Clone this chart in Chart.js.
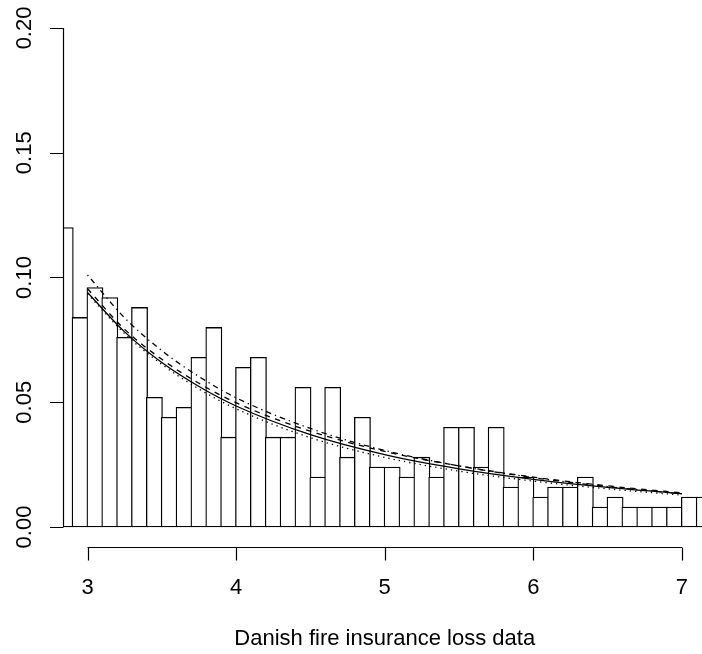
<!DOCTYPE html>
<html>
<head>
<meta charset="utf-8">
<script src="https://cdn.jsdelivr.net/npm/chart.js@4.4.0/dist/chart.umd.min.js"></script>
<style>
  html, body { margin: 0; padding: 0; background: #fff; }
</style>
</head>
<body>
<canvas id="hist" width="702" height="654"></canvas>
<script>
// histogram: left edge of each bin and its density
var binWidth = 0.1;
var binLeft = [2.8, 2.9, 3.0, 3.1, 3.2, 3.3, 3.4, 3.5, 3.6, 3.7, 3.8, 3.9,
               4.0, 4.1, 4.2, 4.3, 4.4, 4.5, 4.6, 4.7, 4.8, 4.9,
               5.0, 5.1, 5.2, 5.3, 5.4, 5.5, 5.6, 5.7, 5.8, 5.9,
               6.0, 6.1, 6.2, 6.3, 6.4, 6.5, 6.6, 6.7, 6.8, 6.9,
               7.0, 7.1];
var density = [0.120, 0.084, 0.096, 0.092, 0.076, 0.088, 0.052, 0.044, 0.048, 0.068, 0.080, 0.036,
               0.064, 0.068, 0.036, 0.036, 0.056, 0.020, 0.056, 0.028, 0.044, 0.024,
               0.024, 0.020, 0.028, 0.020, 0.040, 0.040, 0.024, 0.040, 0.016, 0.020,
               0.012, 0.016, 0.016, 0.020, 0.008, 0.012, 0.008, 0.008, 0.008, 0.008,
               0.012, 0.012];

// fitted densities
var fitX       = [3.0, 3.25, 3.5, 3.75, 4.0, 4.5, 5.0, 5.5, 6.0, 6.5, 7.0];
var fitSolid   = [0.0940, 0.0782, 0.0659, 0.0563, 0.0485, 0.0370, 0.0290, 0.0233, 0.0191, 0.0159, 0.0134];
var fitDashed  = [0.0955, 0.0792, 0.0672, 0.0576, 0.0498, 0.0384, 0.0303, 0.0245, 0.0200, 0.0165, 0.0137];
var fitDotted  = [0.0935, 0.0775, 0.0652, 0.0553, 0.0474, 0.0358, 0.0279, 0.0224, 0.0184, 0.0153, 0.0128];
var fitDotDash = [0.1010, 0.0838, 0.0707, 0.0603, 0.0518, 0.0395, 0.0307, 0.0245, 0.0198, 0.0162, 0.0133];

var xTicks = [3, 4, 5, 6, 7];
var xTickLabels = ['3', '4', '5', '6', '7'];
var yTicks = [0, 0.05, 0.10, 0.15, 0.20];
var yTickLabels = ['0.00', '0.05', '0.10', '0.15', '0.20'];
var xTitle = 'Danish fire insurance loss data';

var xMin = 2.835, xMax = 7.135, yMin = -0.008, yMax = 0.208;
var pad = { left: 63, top: 8, right: 0, bottom: 107 };
var FONT = '22px "Liberation Sans", Arial, sans-serif';
var LW = 1.3;

function pts(xs, ys) {
  return xs.map(function(x, i) { return { x: x, y: ys[i] }; });
}

function fitLine(values, dash) {
  return {
    type: 'line',
    data: pts(fitX, values),
    borderColor: '#000',
    borderWidth: LW,
    borderDash: dash,
    pointRadius: 0,
    fill: false,
    cubicInterpolationMode: 'monotone',
    order: 1
  };
}

// R-style axes: line only across the tick range, outward ticks
var rAxes = {
  id: 'rAxes',
  afterDraw: function(chart) {
    var ctx = chart.ctx, xs = chart.scales.x, ys = chart.scales.y;
    var area = chart.chartArea;
    var base = Math.round(area.bottom) + 0.5;
    var left = Math.round(area.left) + 0.5;
    ctx.save();
    ctx.strokeStyle = '#000';
    ctx.fillStyle = '#000';
    ctx.lineWidth = 1.2;
    ctx.font = FONT;

    ctx.beginPath();
    ctx.moveTo(xs.getPixelForValue(xTicks[0]), base);
    ctx.lineTo(xs.getPixelForValue(xTicks[xTicks.length - 1]), base);
    xTicks.forEach(function(t) {
      var px = Math.round(xs.getPixelForValue(t)) + 0.5;
      ctx.moveTo(px, base);
      ctx.lineTo(px, base + 13);
    });
    ctx.moveTo(left, ys.getPixelForValue(yTicks[0]));
    ctx.lineTo(left, ys.getPixelForValue(yTicks[yTicks.length - 1]));
    yTicks.forEach(function(t) {
      var py = Math.round(ys.getPixelForValue(t)) + 0.5;
      ctx.moveTo(left, py);
      ctx.lineTo(left - 13.5, py);
    });
    ctx.stroke();

    ctx.textAlign = 'center';
    ctx.textBaseline = 'middle';
    xTicks.forEach(function(t, i) {
      ctx.fillText(xTickLabels[i], xs.getPixelForValue(t), base + 40);
    });
    ctx.fillText(xTitle, xs.getPixelForValue(5), base + 91);

    yTicks.forEach(function(t, i) {
      ctx.save();
      ctx.translate(left - 39, ys.getPixelForValue(t));
      ctx.rotate(-Math.PI / 2);
      ctx.fillText(yTickLabels[i], 0, 0);
      ctx.restore();
    });
    ctx.restore();
  }
};

var plotW = 702 - pad.left - pad.right;
var binPx = plotW / (xMax - xMin) * binWidth;

var ctx = document.getElementById('hist').getContext('2d');
new Chart(ctx, {
  type: 'bar',
  data: {
    datasets: [
      fitLine(fitSolid, []),
      fitLine(fitDashed, [5.5, 5.5]),
      fitLine(fitDotted, [1.3, 4]),
      fitLine(fitDotDash, [1.3, 4, 5.5, 4]),
      {
        type: 'bar',
        data: binLeft.map(function(b, i) { return { x: b + binWidth / 2, y: density[i] }; }),
        backgroundColor: '#fff',
        borderColor: '#000',
        borderWidth: LW,
        borderSkipped: false,
        // one border width wider than the bin so neighbouring edges overlap
        barThickness: binPx + LW,
        order: 2
      }
    ]
  },
  options: {
    responsive: false,
    animation: false,
    layout: { padding: pad },
    scales: {
      x: { type: 'linear', min: xMin, max: xMax, offset: false, display: false },
      y: { type: 'linear', min: yMin, max: yMax, display: false }
    },
    plugins: {
      legend: { display: false },
      tooltip: { enabled: false }
    }
  },
  plugins: [rAxes]
});
</script>
</body>
</html>
